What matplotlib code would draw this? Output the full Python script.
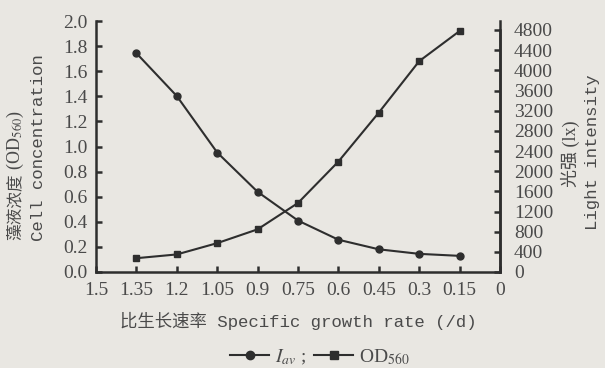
import matplotlib
matplotlib.use('Agg')
import matplotlib.pyplot as plt
from matplotlib.lines import Line2D

plt.rcParams['mathtext.fontset'] = 'stix'

# specific growth rate (/d)
mu = [1.35, 1.2, 1.05, 0.9, 0.75, 0.6, 0.45, 0.3, 0.15]
# average light intensity (lx)
i_av = [4340, 3490, 2370, 1590, 1020, 640, 450, 360, 320]
# cell concentration OD560
od560 = [0.11, 0.14, 0.23, 0.34, 0.55, 0.88, 1.27, 1.68, 1.92]

x_ticks = [1.5, 1.35, 1.2, 1.05, 0.9, 0.75, 0.6, 0.45, 0.3, 0.15, 0]
x_labels = ['1.5', '1.35', '1.2', '1.05', '0.9', '0.75', '0.6', '0.45', '0.3', '0.15', '0']
od_ticks = [0.0, 0.2, 0.4, 0.6, 0.8, 1.0, 1.2, 1.4, 1.6, 1.8, 2.0]
lx_ticks = list(range(0, 4801, 400))

bg = '#e9e7e2'
ink = '#2e2e2e'
txt = '#4a4a4a'
serif = 'Liberation Serif'
mono = ['Liberation Mono', 'Noto Sans CJK SC']

fig = plt.figure(figsize=(6.05, 3.68), dpi=100, facecolor=bg)
ax = fig.add_axes([96/605, 1 - 272/368, 404/605, 251/368])
ax.set_facecolor(bg)
ax2 = ax.twinx()

ax.plot(mu, od560, color=ink, lw=1.5, marker='s', ms=4.5, zorder=3)
ax2.plot(mu, i_av, color=ink, lw=1.5, marker='o', ms=5, zorder=3)

ax.set_xlim(1.5, 0)
ax.set_ylim(0, 2.0)
# right scale is a little shorter than the left one
ax2.set_ylim(0, 4800 * 251 / 242)
ax2.spines['right'].set_bounds(0, 4800)

for a in (ax, ax2):
    a.spines['top'].set_visible(False)
    for s in a.spines.values():
        s.set_linewidth(1.8)
        s.set_color(ink)
ax2.spines['left'].set_visible(False)
ax2.spines['bottom'].set_visible(False)

ax.set_xticks(x_ticks)
ax.set_xticklabels(x_labels)
ax.set_yticks(od_ticks)
ax.set_yticklabels([f'{v:.1f}' for v in od_ticks])
ax2.set_yticks(lx_ticks)

ax.tick_params(direction='in', length=4, width=1.8, color=ink, labelcolor=txt, labelsize=14, pad=6)
ax.tick_params(axis='x', pad=7)
ax2.tick_params(direction='in', length=4, width=1.8, color=ink, labelcolor=txt, labelsize=14, pad=10)
for lab in ax.get_xticklabels() + ax.get_yticklabels() + ax2.get_yticklabels():
    lab.set_family(serif)

fig.text(298/605, 1 - 321/368, '比生长速率 Specific growth rate (/d)', family=mono,
         fontsize=12.5, color=txt, ha='center', va='center')

# left label: Chinese part, then the OD560 part stacked above it
cn = fig.text(15/605, 1 - 240/368, '藻液浓度', family='Noto Sans CJK SC', fontsize=12,
              color=txt, rotation=90, ha='center', va='bottom')
ax.annotate(' (OD$_{560}$)', xy=(0.5, 1.0), xycoords=cn, family=serif,
            fontsize=13, color=txt, rotation=90, ha='center', va='bottom')
fig.text(39/605, 1 - 148/368, 'Cell concentration', family=mono, fontsize=12.5,
         color=txt, rotation=90, ha='center', va='center')
fig.text(570/605, 1 - 154/368, '光强 (lx)', family=[serif, 'Noto Sans CJK SC'], fontsize=13,
         color=txt, rotation=90, ha='center', va='center')
fig.text(592/605, 1 - 152/368, 'Light intensity', family=mono, fontsize=12.5,
         color=txt, rotation=90, ha='center', va='center')

handles = [Line2D([], [], color=ink, lw=1.5, marker='o', ms=6),
           Line2D([], [], color=ink, lw=1.5, marker='s', ms=5.5)]
leg = fig.legend(handles, ['$I_{av}$ ;', 'OD$_{560}$'], loc='center', ncol=2,
                 bbox_to_anchor=(320/605, 1 - 357/368), frameon=False,
                 handlelength=2.0, handletextpad=0.3, columnspacing=0.4,
                 prop={'family': serif, 'size': 14})
for t in leg.get_texts():
    t.set_color(txt)

fig.savefig('out.png', dpi=100, facecolor=bg)
